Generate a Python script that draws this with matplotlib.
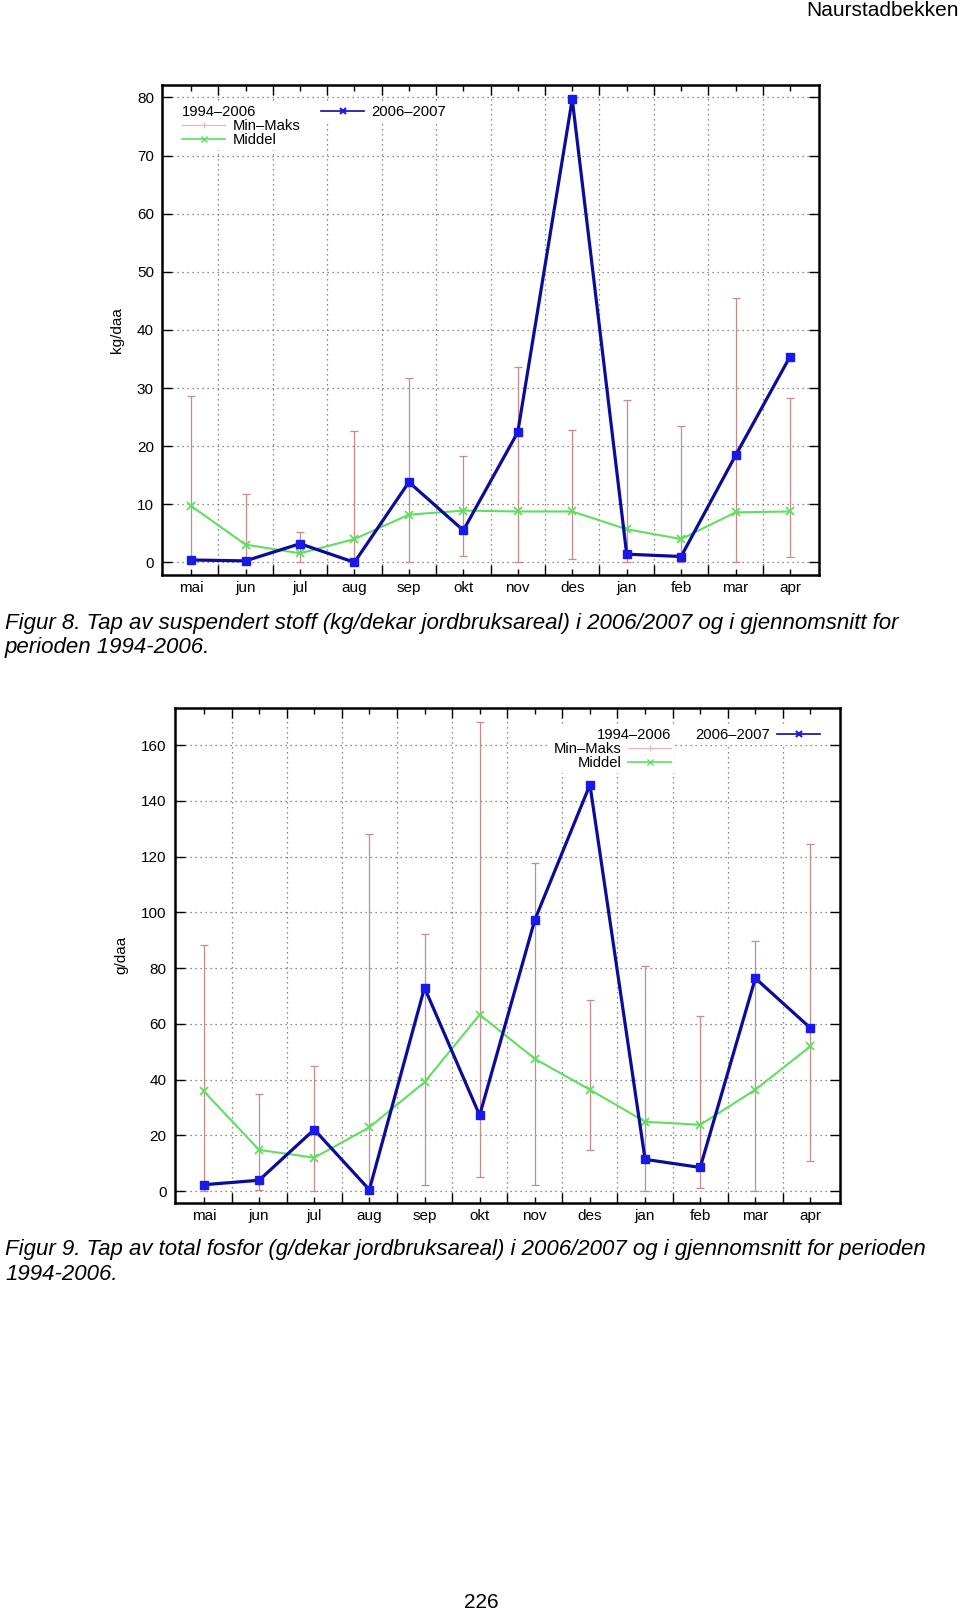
import matplotlib
matplotlib.use('Agg')
import matplotlib.pyplot as plt
from matplotlib.lines import Line2D
import numpy as np

# Data
months = ['mai', 'jun', 'jul', 'aug', 'sep', 'okt', 'nov', 'des', 'jan', 'feb', 'mar', 'apr']

# Figur 8 - suspendert stoff (kg/daa)
ss_2006_2007 = [0.4, 0.25, 3.2, 0.0, 13.8, 5.5, 22.4, 79.7, 1.4, 1.0, 18.4, 35.4]
ss_middel = [9.7, 3.05, 1.55, 4.0, 8.2, 8.9, 8.75, 8.75, 5.7, 4.0, 8.6, 8.75]
ss_min = [0.2, 0.1, 0.0, 0.0, 0.1, 1.15, 0.1, 0.6, 0.0, 0.0, 0.0, 0.9]
ss_max = [28.7, 11.7, 5.2, 22.6, 31.7, 18.3, 33.7, 22.7, 27.9, 23.5, 45.5, 28.3]

# Figur 9 - total fosfor (g/daa)
tp_2006_2007 = [2.3, 3.9, 22.1, 0.5, 73.0, 27.2, 97.3, 145.8, 11.4, 8.5, 76.4, 58.5]
tp_middel = [35.8, 14.8, 12.0, 22.9, 39.1, 63.3, 47.5, 36.4, 24.9, 23.8, 36.4, 52.0]
tp_min = [0.2, 0.5, 0.0, 0.0, 2.3, 5.1, 2.3, 14.8, 0.2, 1.2, 0.2, 10.8]
tp_max = [88.2, 34.7, 44.9, 128.0, 92.3, 168.2, 117.9, 68.7, 80.9, 62.7, 89.6, 124.6]

BLUE_LINE = '#0c0c9a'
BLUE_MARK = '#1a1ae8'
GREEN = '#5ee05e'
PINK = '#c98a8a'
GRID = '#666666'

plt.rcParams['font.family'] = ['Liberation Sans', 'DejaVu Sans']
plt.rcParams['font.size'] = 10


def draw_chart(ax, new, mid, mn, mx, ylim, yticks, ylabel, legend_right):
    x = np.arange(len(months))
    mid = np.array(mid)
    yerr = [mid - np.array(mn), np.array(mx) - mid]

    # grid (behind everything)
    ax.set_axisbelow(True)
    ax.grid(True, which='major', axis='y', color=GRID, linestyle=(0, (1, 3)), lw=0.9)
    ax.grid(True, which='minor', axis='x', color=GRID, linestyle=(0, (1, 3)), lw=0.9)

    ax.errorbar(x, mid, yerr=yerr, fmt='none', ecolor=PINK, elinewidth=0.9,
                capsize=3, capthick=0.9, zorder=2)
    ax.plot(x, mid, color=GREEN, lw=1.5, marker='x', ms=6, mew=1.3, zorder=3)
    ax.plot(x, new, color=BLUE_LINE, lw=2.3, marker='s', ms=5.5,
            mfc=BLUE_MARK, mec=BLUE_MARK, zorder=4)

    ax.set_xlim(-0.53, len(months) - 1 + 0.53)
    ax.set_ylim(*ylim)
    ax.set_xticks(x)
    ax.set_xticklabels(months)
    ax.set_xticks(x[:-1] + 0.5, minor=True)
    ax.set_yticks(yticks)
    ax.tick_params(axis='both', which='major', direction='in', top=True, right=True,
                   length=7, width=1, pad=6, labelsize=11)
    ax.tick_params(axis='x', which='major', length=4, pad=5)
    ax.tick_params(axis='x', which='minor', direction='in', top=True, length=7, width=1)
    for s in ax.spines.values():
        s.set_linewidth(1.8)
    ax.set_ylabel(ylabel, fontsize=11, labelpad=9)

    # legends
    h_mm = Line2D([], [], color='#e8b8b8', lw=0.9, marker='|', ms=5)
    h_mid = Line2D([], [], color=GREEN, lw=1.2, marker='x', ms=5)
    h_new = Line2D([], [], color=BLUE_LINE, lw=1.2, marker='x', ms=5, mec=BLUE_MARK, mew=1.5)
    common = dict(frameon=True, facecolor='white', edgecolor='none', framealpha=1,
                  fancybox=False, handlelength=2.9, handletextpad=0.5, labelspacing=0.0,
                  borderpad=0.2, borderaxespad=0, numpoints=1, fontsize=10.6,
                  title_fontsize=10.6)
    if not legend_right:
        leg1 = ax.legend([h_mm, h_mid], ['Min\u2013Maks', 'Middel'], title='1994\u20132006',
                         loc='upper left', bbox_to_anchor=(0.026, 0.965),
                         alignment='left', **common)
        ax.add_artist(leg1)
        ax.legend([h_new], ['2006\u20132007'], loc='upper left',
                  bbox_to_anchor=(0.238, 0.965), **common)
    else:
        leg1 = ax.legend([h_mm, h_mid], ['Min\u2013Maks', 'Middel'], title='1994\u20132006',
                         loc='upper right', bbox_to_anchor=(0.751, 0.965),
                         alignment='right', markerfirst=False, **common)
        ax.add_artist(leg1)
        ax.legend([h_new], ['2006\u20132007'], loc='upper right', markerfirst=False,
                  bbox_to_anchor=(0.975, 0.965), **common)


fig = plt.figure(figsize=(9.6, 16.12), dpi=100)

ax1 = fig.add_axes([0.169, 0.6436, 0.684, 0.3035])
draw_chart(ax1, ss_2006_2007, ss_middel, ss_min, ss_max, (-2.1, 82.1),
           np.arange(0, 81, 10), 'kg/daa', legend_right=False)

ax2 = fig.add_axes([0.182, 0.254, 0.6927, 0.3067])
draw_chart(ax2, tp_2006_2007, tp_middel, tp_min, tp_max, (-4.1, 173.3),
           np.arange(0, 161, 20), 'g/daa', legend_right=True)

# page text
cap_font = dict(family=['Liberation Sans', 'DejaVu Sans'], style='italic',
                fontsize=16, color='black', va='center', ha='left')
fig.text(0.999, 1 - 10 / 1612, 'Naurstadbekken', ha='right', va='center', fontsize=15)
fig.text(5 / 960, 1 - 623 / 1612,
         'Figur 8. Tap av suspendert stoff (kg/dekar jordbruksareal) i 2006/2007 og i gjennomsnitt for',
         **cap_font)
fig.text(5 / 960, 1 - 647.5 / 1612, 'perioden 1994-2006.', **cap_font)
fig.text(5 / 960, 1 - 1250 / 1612,
         'Figur 9. Tap av total fosfor (g/dekar jordbruksareal) i 2006/2007 og i gjennomsnitt for perioden',
         **cap_font)
fig.text(5 / 960, 1 - 1274.5 / 1612, '1994-2006.', **cap_font)
fig.text(481 / 960, 1 - 1603 / 1612, '226', ha='center', va='center', fontsize=15)

fig.savefig('out.png', dpi=100)
plt.close(fig)
